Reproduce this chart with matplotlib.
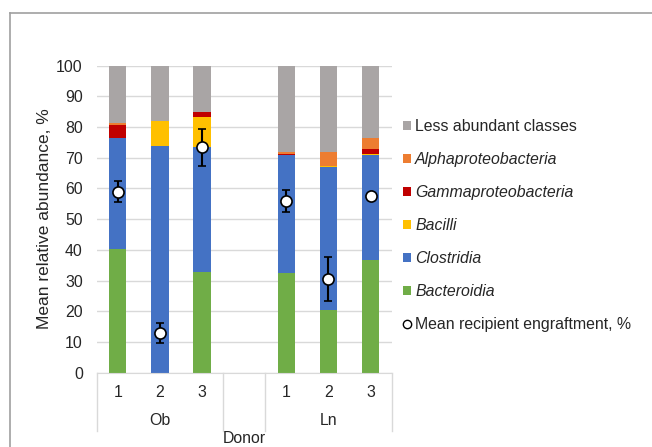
import matplotlib
matplotlib.use('Agg')
import matplotlib.pyplot as plt
from matplotlib.patches import Patch
from matplotlib.lines import Line2D
import numpy as np

plt.rcParams['font.family'] = ['Liberation Sans', 'DejaVu Sans']

# slots: Ob 1-3, empty gap, Ln 1-3
groups = ['Ob', 'Ln']
samples = ['1', '2', '3']
positions = [0, 1, 2, 4, 5, 6]

bacteroidia = [40.3, 0.0, 32.9, 32.6, 20.5, 36.6]
clostridia = [36.1, 74.0, 40.6, 38.4, 46.5, 34.4]
bacilli = [0.0, 8.0, 9.9, 0.0, 0.3, 0.3]
gammaproteo = [4.2, 0.0, 1.6, 0.4, 0.0, 1.7]
alphaproteo = [0.7, 0.0, 0.0, 0.6, 4.7, 3.6]
less_abundant = [18.7, 18.0, 15.0, 28.0, 28.0, 23.4]

engraft_mean = [58.9, 12.9, 73.4, 56.0, 30.6, 57.6]
engraft_err = [3.4, 3.2, 6.1, 3.5, 7.2, 0.8]

series = [
    (bacteroidia, '#70ad47', 'Bacteroidia', True),
    (clostridia, '#4472c4', 'Clostridia', True),
    (bacilli, '#ffc000', 'Bacilli', True),
    (gammaproteo, '#c00000', 'Gammaproteobacteria', True),
    (alphaproteo, '#ed7d31', 'Alphaproteobacteria', True),
    (less_abundant, '#a9a5a5', 'Less abundant classes', False),
]

FS = 11.4
TXT = '#262626'

fig = plt.figure(figsize=(6.52, 4.47), dpi=100)
ax = fig.add_axes([96.7 / 652, 74.3 / 447, 295 / 652, 307 / 447])

bottom = np.zeros(len(positions))
for vals, color, name, _ in series:
    ax.bar(positions, vals, width=0.41, bottom=bottom, color=color, zorder=2)
    bottom += np.array(vals)

ax.errorbar(positions, engraft_mean, yerr=engraft_err, fmt='o', color='black',
            ecolor='black', elinewidth=1.5, capsize=3, capthick=1.5,
            markersize=8, markerfacecolor='white', markeredgecolor='black',
            markeredgewidth=1.2, zorder=4)

ax.set_xlim(-0.5, 6.5)
ax.set_ylim(0, 100)
ax.set_yticks(np.arange(0, 101, 10))
ax.yaxis.grid(True, color='#d9d9d9', linewidth=1, zorder=0)
ax.set_axisbelow(True)
ax.tick_params(axis='y', length=0, pad=10, labelsize=FS, colors=TXT)
ax.set_xticks([])
for side in ['top', 'right', 'left']:
    ax.spines[side].set_visible(False)
ax.spines['bottom'].set_color('#d9d9d9')
ax.spines['bottom'].set_zorder(3)

# two-level category axis
trans = ax.get_xaxis_transform()
for xb in [-0.5, 2.5, 3.5, 6.5]:
    ax.plot([xb, xb], [0, -0.189], color='#d9d9d9', linewidth=1,
            transform=trans, clip_on=False)
for p, s in zip(positions, samples * 2):
    ax.text(p, -0.063, s, transform=trans, ha='center', va='center',
            fontsize=FS, color=TXT)
for center, g in zip([1, 5], groups):
    ax.text(center, -0.157, g, transform=trans, ha='center', va='center',
            fontsize=FS, color=TXT)
ax.text(0.5, -0.238, 'Donor', transform=ax.transAxes, ha='center',
        va='bottom', fontsize=FS, color=TXT)

fig.text(45 / 652, 0.51, 'Mean relative abundance, %', rotation=90,
         ha='center', va='center', fontsize=12.5, color=TXT)

# legend, top entry is the top of the stack
handles = []
for vals, color, name, italic in series[::-1]:
    handles.append(Patch(facecolor=color, edgecolor='none', label=name))
handles.append(Line2D([], [], marker='o', linestyle='none', markersize=6,
                      markerfacecolor='white', markeredgecolor='black',
                      markeredgewidth=1.0, label='Mean recipient engraftment, %'))
leg = fig.legend(handles=handles, loc='upper left',
                 bbox_to_anchor=(397 / 652, 1 - 113 / 447), frameon=False,
                 fontsize=FS, handlelength=0.5, handleheight=0.5,
                 handletextpad=0.25, labelspacing=1.13, borderaxespad=0)
for txt, (_, _, _, italic) in zip(leg.get_texts(), series[::-1]):
    if italic:
        txt.set_style('italic')
for txt in leg.get_texts():
    txt.set_color(TXT)

# outer frame of the chart area
fig.add_artist(Line2D([9.7 / 652, 9.7 / 652], [0, 1 - 12.5 / 447],
                      color='#a0a0a0', linewidth=1.2, transform=fig.transFigure))
fig.add_artist(Line2D([9.7 / 652, 1], [1 - 12.5 / 447, 1 - 12.5 / 447],
                      color='#a0a0a0', linewidth=1.2, transform=fig.transFigure))

fig.savefig('out.png', dpi=100)
